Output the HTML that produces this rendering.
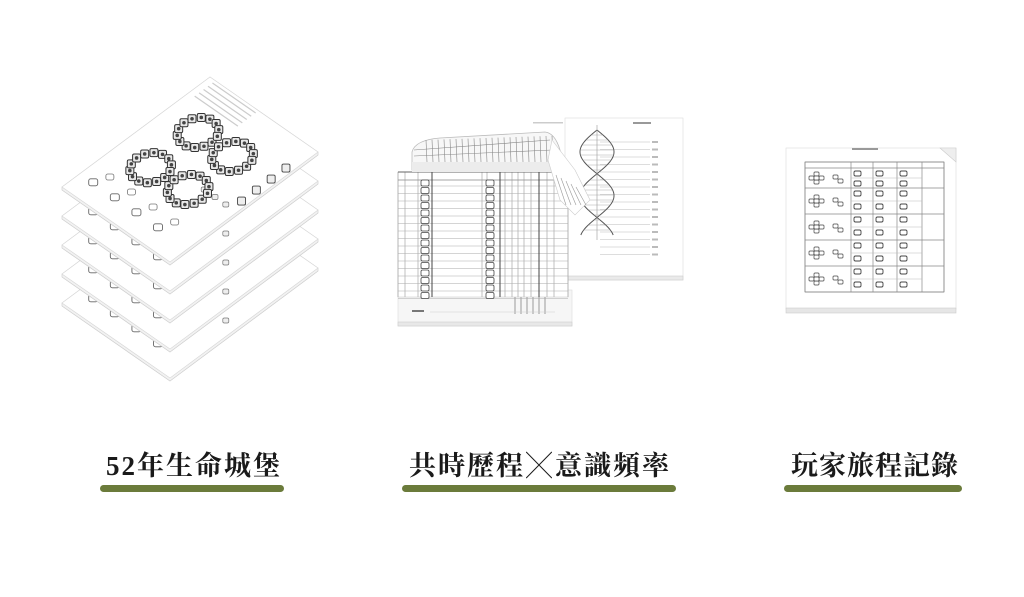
<!DOCTYPE html>
<html><head><meta charset="utf-8"><style>
html,body{margin:0;padding:0;background:#fff;}
body{width:1024px;height:597px;position:relative;overflow:hidden;}
svg{position:absolute;left:0;top:0;}
.cap{position:absolute;top:449px;line-height:34px;font-family:"Liberation Serif","Noto Serif CJK SC",serif;font-weight:bold;font-size:27px;color:#1a1a1a;letter-spacing:2px;white-space:nowrap;}
.x{font-weight:normal;font-size:26px;font-family:"Noto Sans CJK SC",sans-serif;line-height:0;vertical-align:0;margin:0 1px;}
.bar{position:absolute;top:485px;height:7px;border-radius:4px;background:#6b7b3b;}
</style></head><body>
<svg id="s" width="1024" height="597" viewBox="0 0 1024 597"></svg>
<div class="cap" style="left:106px">52年生命城堡</div>
<div class="cap" style="left:409px">共時歷程<span class="x">╳</span>意識頻率</div>
<div class="cap" style="left:791px;letter-spacing:1px">玩家旅程記錄</div>
<div class="bar" style="left:100px;width:184px"></div>
<div class="bar" style="left:402px;width:274px"></div>
<div class="bar" style="left:784px;width:178px"></div>
<script>
var s=document.getElementById('s'),h='';
function L(x1,y1,x2,y2,c,w){h+='<line x1="'+x1+'" y1="'+y1+'" x2="'+x2+'" y2="'+y2+'" stroke="'+(c||'#bbb')+'" stroke-width="'+(w||0.6)+'"/>';}
function R(x,y,w,hh,f,st,sw,rx){h+='<rect x="'+x+'" y="'+y+'" width="'+w+'" height="'+hh+'" fill="'+(f||'none')+'" stroke="'+(st||'none')+'" stroke-width="'+(sw||0.6)+'" rx="'+(rx||0)+'"/>';}
var T=[210,77],U=[108,75],V=[-148,110];
function P(u,v,dy){return [T[0]+U[0]*u+V[0]*v, T[1]+U[1]*u+V[1]*v+dy];}
function poly(pts,f,st,sw){h+='<polygon points="'+pts.map(function(p){return p[0].toFixed(1)+','+p[1].toFixed(1)}).join(' ')+'" fill="'+f+'" stroke="'+st+'" stroke-width="'+(sw||0.7)+'"/>';}
for(var i=4;i>=0;i--){var dy=i*29;
 poly([P(1,0,dy+3),P(1,1,dy+3),P(0,1,dy+3),P(1,1,dy)],'#e6e6e6','#ccc');
 poly([P(0,0,dy),P(1,0,dy),P(1,0,dy+3),P(1,1,dy+3),P(0,1,dy+3),P(0,1,dy)],'#f2f2f2','#d0d0d0');
 poly([P(0,0,dy),P(1,0,dy),P(1,1,dy),P(0,1,dy)],'#fff','#d8d8d8');
 for(var k=0;k<4;k++){var p=P(0.12+k*0.2,0.88,dy);R(p[0]-4,p[1]-4,9,7,'#fff','#666',0.9,2);var q=P(0.16+k*0.2,0.8,dy);R(q[0]-3,q[1]-3,8,6,'#fff','#777',0.8,2);}
 for(var k=0;k<3;k++){var p=P(0.7+k*0.1,0.55,dy);R(p[0]-3,p[1]-3,6,5,'#eee','#777',0.7,1.5);}
}
var cells=[];
function ring(cu,cv,r){for(var a=0;a<14;a++){var t=a/14*Math.PI*2;cells.push([cu+Math.cos(t)*r,cv+Math.sin(t)*r*0.8]);}}
ring(0.3,0.3,0.13);ring(0.62,0.3,0.13);ring(0.3,0.62,0.13);ring(0.62,0.6,0.13);
cells.forEach(function(c){var p=P(c[0],c[1],0);R(p[0]-4,p[1]-4,8,8,'#e8e8e8','#333',1,1.5);h+='<circle cx="'+p[0]+'" cy="'+p[1]+'" r="1.8" fill="#444"/>';});
for(var k=0;k<4;k++){var p=P(0.95,0.18+k*0.1,0);R(p[0]-4,p[1]-4,8,8,'#eee','#444',0.9,1.5);}
for(var k=0;k<5;k++){var a=P(0.05,0.02+k*0.03,0),b=P(0.45,0.02+k*0.03,0);L(a[0],a[1],b[0],b[1],'#ccc',1.2);}
R(565,118,118,162,'#fff','#ddd');R(565,276,118,4,'#eaeaea','#ccc');
for(var k=0;k<16;k++){L(600,142+k*7.5,650,142+k*7.5,'#bbb',0.6);h+='<rect x="652" y="'+(141+k*7.5)+'" width="6" height="2" fill="#bbb"/>';}
var d='',d2='';for(var y=130;y<=235;y+=1){var w=17*Math.sin((y-130)/105*Math.PI*2.4);d+=(y==130?'M':'L')+(597+w)+','+y;d2+=(y==130?'M':'L')+(597-w)+','+y;}
h+='<path d="'+d+'" fill="none" stroke="#555" stroke-width="1"/><path d="'+d2+'" fill="none" stroke="#555" stroke-width="1"/>';
for(var y=135;y<=232;y+=5){var w=17*Math.sin((y-130)/105*Math.PI*2.4);L(597-w,y,597+w,y,'#999',0.4);}
L(597,125,597,240,'#999',0.6);
h+='<rect x="633" y="122" width="18" height="2" fill="#999"/><rect x="533" y="122" width="30" height="1.5" fill="#ccc"/>';
R(398,290,174,36,'#f6f6f6','#ddd');R(398,322,174,4,'#e8e8e8','#ccc');
R(398,172,170,125,'#fff','#ccc');
var cols=[398,405,418,432,482,487,500,505,512,518,524,531,539,547,554,568];
cols.forEach(function(x){L(x,172,x,297,'#999',0.6);});
L(398,172,568,172,'#666',1);L(398,180,568,180,'#888',0.8);
for(var k=0;k<16;k++){var y=186+k*7.5;L(398,y,568,y,'#aaa',0.5);R(421,y-6,8,6,'#fff','#444',0.8,1.5);R(486,y-6,8,6,'#fff','#444',0.8,1.5);}
L(432,172,432,297,'#444',1);L(500,172,500,297,'#444',1);L(539,172,539,297,'#444',1);
for(var k=0;k<6;k++)L(515+k*6,297,515+k*6,314,'#aaa',1.2);
h+='<rect x="412" y="310" width="12" height="2" fill="#777"/>';L(430,312,555,312,'#ccc',0.6);
h+='<path d="M412,152 Q415,140 440,138 L545,132 Q555,133 560,150 L565,170 L412,170 Z" fill="#f7f7f7" stroke="#bbb" stroke-width="0.8"/>';
h+='<rect x="412" y="162" width="150" height="10" fill="#ececec"/>';
for(var k=0;k<22;k++){var x=426+k*6;L(x,140-k*0.2,x+1,162,'#888',0.6);}
L(414,150,550,140,'#888',0.6);L(414,156,552,150,'#888',0.6);
h+='<path d="M552,140 L575,170 L590,200 L575,215 L560,200 L548,160 Z" fill="#fff" stroke="#ccc" stroke-width="0.6"/>';
for(var k=0;k<5;k++)L(556+k*5,175+k*3,566+k*5,205,'#999',0.6);
R(786,148,170,161,'#fff','#ddd');R(786,308,170,5,'#e6e6e6','#ccc');
h+='<polygon points="940,148 956,148 956,162" fill="#eee" stroke="#ccc" stroke-width="0.6"/>';
R(852,148,26,2,'#999');
var rows=[162,168,188,214,240,266,292],cc=[805,851,873,897,922,944];
R(805,162,139,130,'none','#888',0.7);
rows.forEach(function(y){L(805,y,944,y,'#888',0.7);});cc.forEach(function(x){L(x,162,x,292,'#888',0.7);});
for(var r=0;r<5;r++){var y0=[168,188,214,240,266][r],hh=[20,26,26,26,26][r];
 for(var c=0;c<3;c++){R(cc[c+1]+3,y0+3,7,5,'#fff','#444',0.9,1.5);R(cc[c+1]+3,y0+hh/2+3,7,5,'#fff','#444',0.9,1.5);L(cc[c+1],y0+hh/2,cc[c+2],y0+hh/2,'#bbb',0.5);}
 var bx=812,by=y0+hh/2;[[0,-4],[-5,0],[5,0],[0,4],[0,0]].forEach(function(o){R(bx+o[0]+2,by+o[1]-2,5,4,'#fff','#444',0.7,1);});
 R(833,by-3,5,4,'#fff','#444',0.7,1);R(838,by+1,5,4,'#fff','#444',0.7,1);}
s.innerHTML=h;
</script>
</body></html>
